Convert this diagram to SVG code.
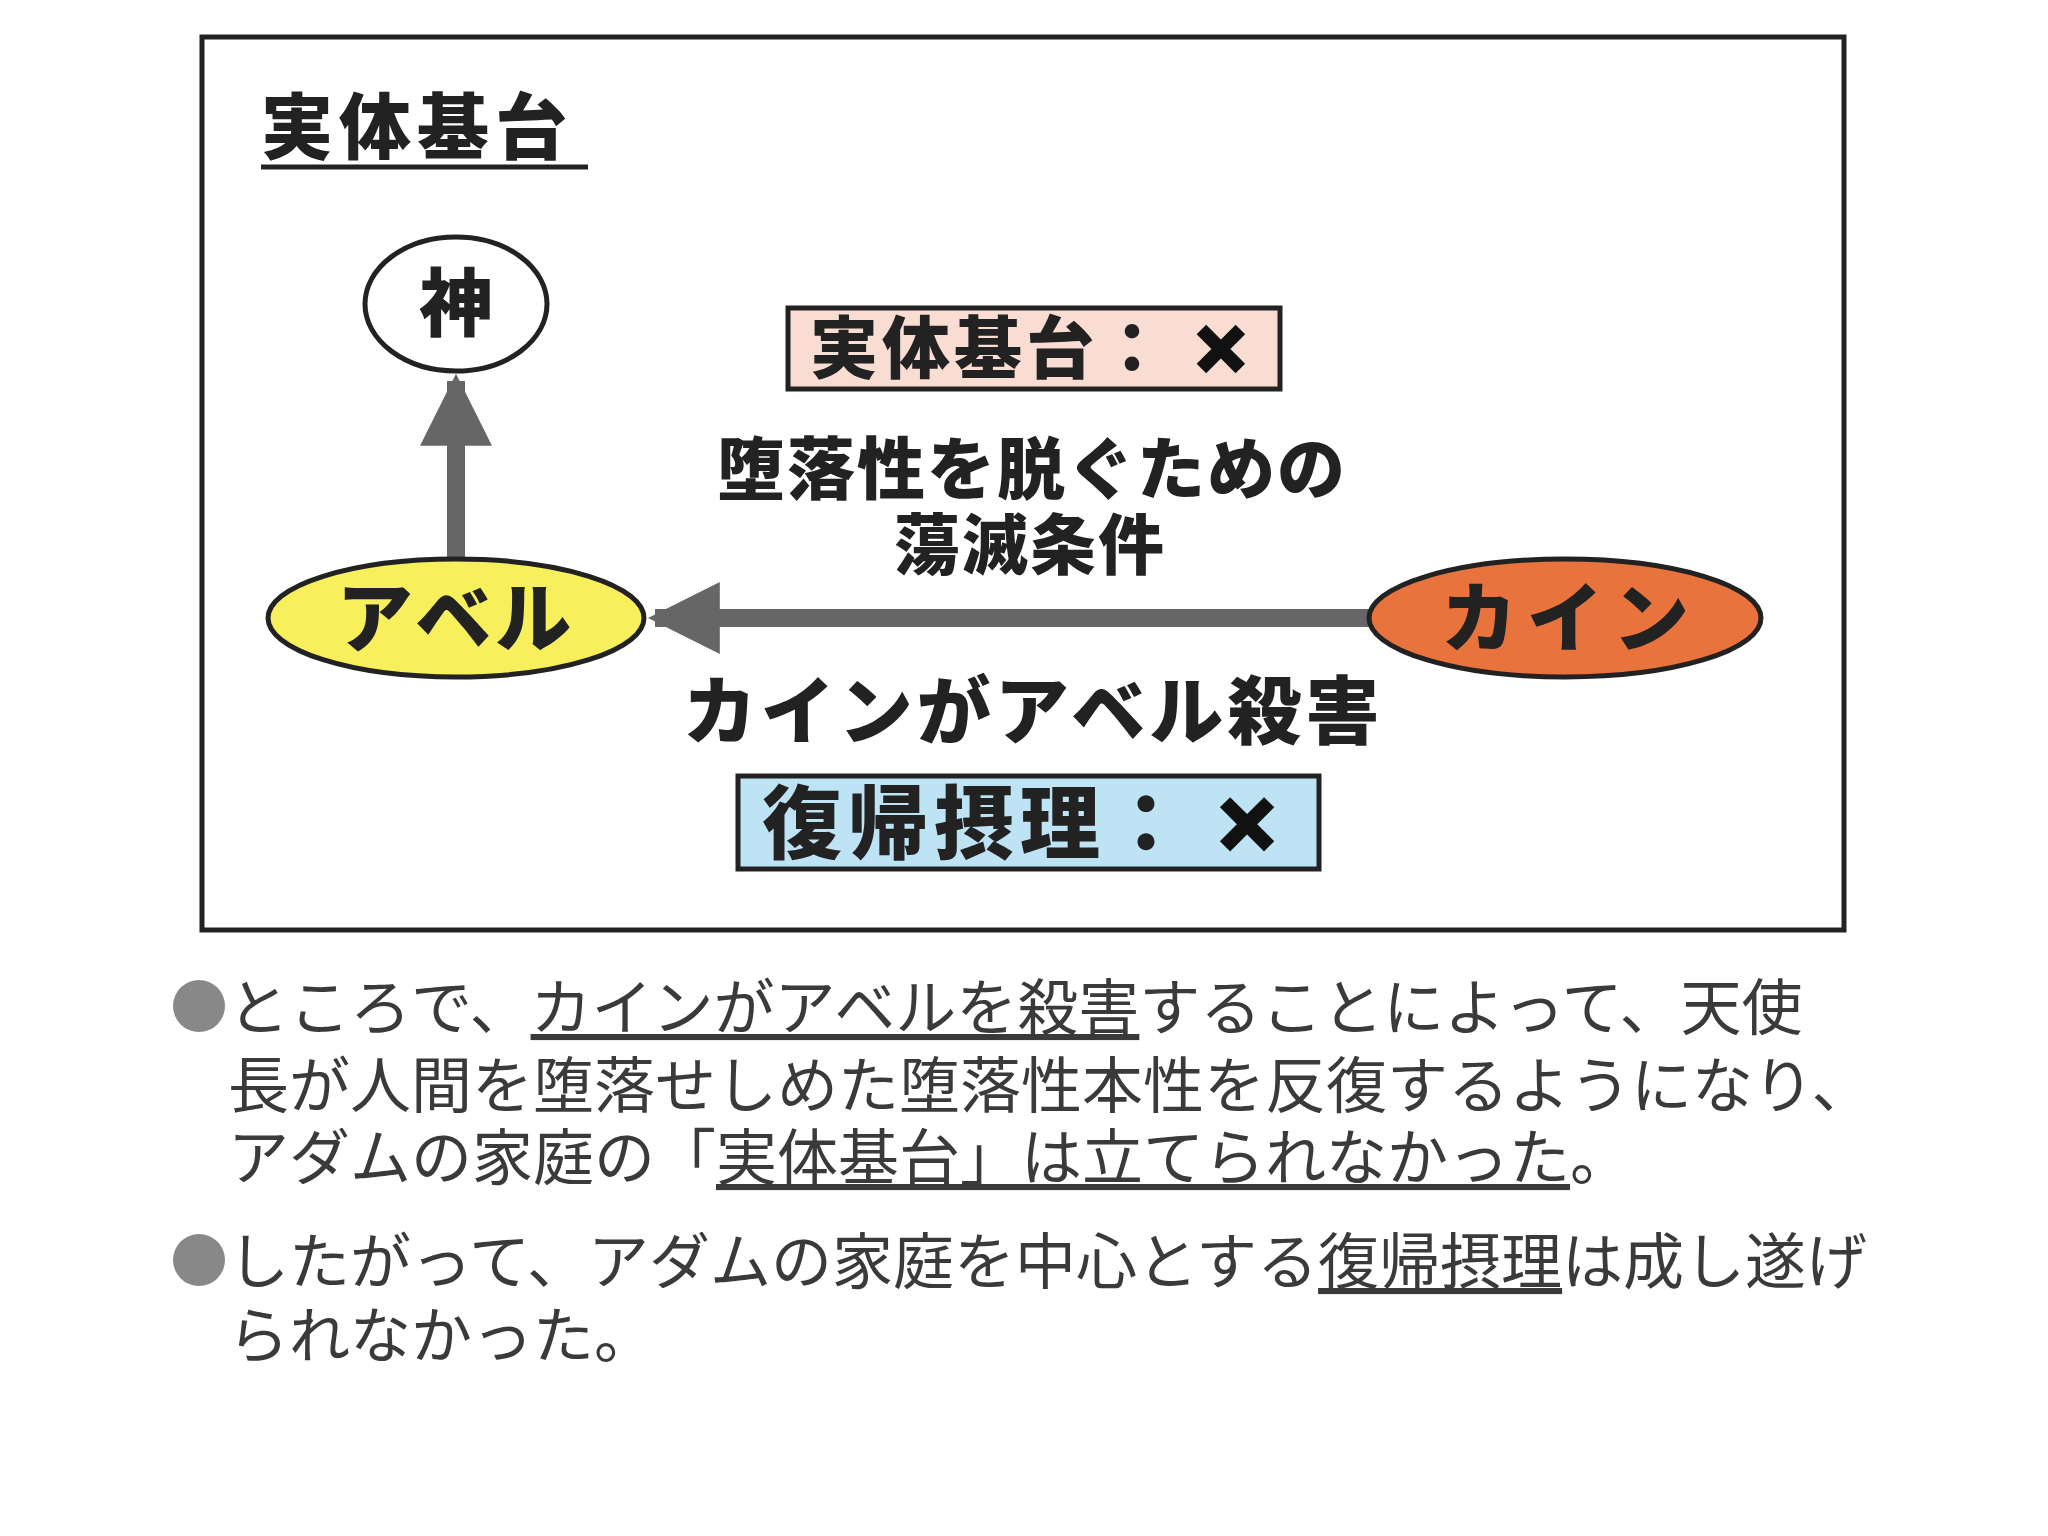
<svg xmlns="http://www.w3.org/2000/svg" width="2048" height="1536" viewBox="0 0 2048 1536">
<style>
.b{font-family:"Noto Sans CJK JP","Noto Sans",sans-serif;font-weight:900;fill:#222}
.r{font-family:"Noto Sans CJK JP","Noto Sans",sans-serif;font-weight:400;fill:#3a3a3a;font-size:61px}
.x{font-family:"DejaVu Sans",sans-serif;font-weight:bold;fill:#111;stroke:#111;stroke-width:7}
.u{text-decoration:underline}
</style>
<defs>
<marker id="ah" viewBox="0 0 10 10" refX="9" refY="5" markerWidth="4" markerHeight="4" orient="auto" markerUnits="strokeWidth"><path d="M0,0 L10,5 L0,10 z" fill="#666"/></marker>
</defs>
<rect width="2048" height="1536" fill="#fff"/>
<rect x="202" y="37" width="1642" height="893" fill="#fff" stroke="#222" stroke-width="5"/>
<g id="title"><text class="b" x="261" y="153" font-size="72" letter-spacing="6">実体基台</text><line x1="261" y1="167" x2="588" y2="167" stroke="#222" stroke-width="5"/></g>
<g id="connectors">
<line x1="456" y1="561" x2="456" y2="381" stroke="#666" stroke-width="18" marker-end="url(#ah)"/>
<line x1="1371" y1="618" x2="655" y2="618" stroke="#666" stroke-width="18" marker-end="url(#ah)"/>
</g>
<g id="god"><ellipse cx="456" cy="304" rx="91" ry="67" fill="#fff" stroke="#222" stroke-width="5"/><text class="b" x="456" y="330" font-size="74" text-anchor="middle">神</text></g>
<g id="abel"><ellipse cx="456" cy="618" rx="188" ry="59" fill="#f7ef5c" stroke="#222" stroke-width="5"/><text class="b" x="456" y="646" font-size="76" text-anchor="middle" letter-spacing="4">アベル</text></g>
<g id="cain"><ellipse cx="1565" cy="618" rx="196" ry="59" fill="#e8733c" stroke="#222" stroke-width="5"/><text class="b" x="1570" y="646" font-size="76" text-anchor="middle" letter-spacing="10">カイン</text></g>
<g id="box1"><rect x="788" y="308" width="492" height="81" fill="#f9ddd3" stroke="#222" stroke-width="5"/><text class="b" x="810" y="373" font-size="68" letter-spacing="4">実体基台：</text><text class="x" x="1221" y="373" font-size="66" text-anchor="middle">✕</text></g>
<g id="label1"><text class="b" x="1032" y="494" font-size="68" text-anchor="middle" letter-spacing="2">堕落性を脱ぐための</text><text class="b" x="1030" y="569" font-size="66" text-anchor="middle" letter-spacing="2">蕩滅条件</text></g>
<g id="label2"><text class="b" x="1033" y="738" font-size="74" text-anchor="middle" letter-spacing="4">カインがアベル殺害</text></g>
<g id="box2"><rect x="738" y="776" width="581" height="93" fill="#bde3f5" stroke="#222" stroke-width="5"/><text class="b" x="762" y="852" font-size="80" letter-spacing="6">復帰摂理：</text><text class="x" x="1247" y="852" font-size="76" text-anchor="middle">✕</text></g>
<g id="body">
<circle cx="199" cy="1006" r="26" fill="#888"/>
<circle cx="199" cy="1260" r="26" fill="#888"/>
<text class="r" x="228" y="1030">ところで、<tspan class="u">カインがアベルを殺害</tspan>することによって、天使</text>
<text class="r" x="228" y="1108">長が人間を堕落せしめた堕落性本性を反復するようになり、</text>
<text class="r" x="228" y="1180">アダムの家庭の「<tspan class="u">実体基台」は立てられなかった</tspan>。</text>
<text class="r" x="228" y="1284">したがって、アダムの家庭を中心とする<tspan class="u">復帰摂理</tspan>は成し遂げ</text>
<text class="r" x="228" y="1358">られなかった。</text>
</g>
</svg>
